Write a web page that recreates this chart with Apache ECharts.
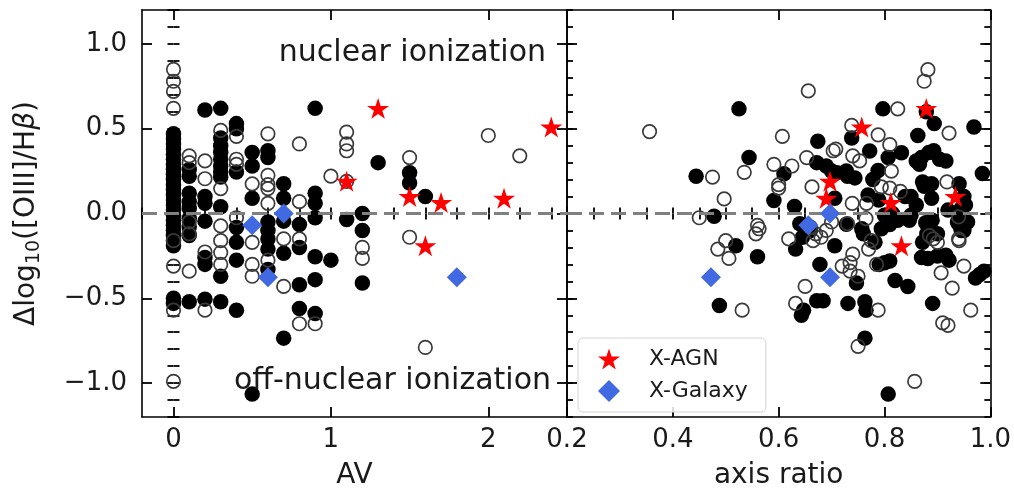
<!DOCTYPE html>
<html><head><meta charset="utf-8">
<script src="https://cdn.jsdelivr.net/npm/echarts@6/dist/echarts.min.js"></script>
<style>html,body{margin:0;padding:0;background:#fff}#c{width:1014px;height:495px}</style>
</head><body><div id="c"></div>
<script>
// ---------- tick labels ----------
const avTicks = [0, 1, 2];
const qTicks = [0.2, 0.4, 0.6, 0.8, 1.0];
const yTicks = [-1.0, -0.5, 0.0, 0.5, 1.0];

// ---------- X-ray sources (same objects in both panels) ----------
const agnDlog = [0.62, 0.51, 0.19, 0.10, 0.09, 0.065, -0.19];
const agnAV   = [1.3, 2.4, 1.1, 1.5, 2.1, 1.7, 1.6];
const agnQ    = [0.879, 0.757, 0.697, 0.934, 0.69, 0.812, 0.832];

const galDlog = [-0.07, 0.0, -0.376, -0.376];
const galAV   = [0.5, 0.7, 0.6, 1.8];
const galQ    = [0.656, 0.697, 0.472, 0.697];

// ---------- left panel: AV vs dlog ----------
const leftFilled = [
[0,0.47],[0,0.44],[0,0.41],[0,0.38],[0,0.35],[0,0.32],[0,0.29],[0,0.26],[0,0.23],[0,0.20],[0,0.17],[0,0.14],[0,0.11],[0,0.08],[0,0.05],[0,0.02],[0,-0.01],[0,-0.04],[0,-0.07],[0,-0.10],[0,-0.13],[0,-0.16],[0,-0.19],[0,-0.50],[0,-0.53],
[0.1,0.26],[0.1,0.22],[0.1,0.12],[0.1,0.07],[0.1,0.03],[0.1,-0.03],[0.1,-0.08],[0.1,-0.13],[0.1,-0.52],
[0.2,0.61],[0.2,0.10],[0.2,0.06],[0.2,-0.045],[0.2,-0.26],[0.2,-0.30],[0.2,-0.505],
[0.3,0.62],[0.3,0.445],[0.3,0.40],[0.3,0.36],[0.3,0.32],[0.3,0.28],[0.3,0.245],[0.3,0.215],[0.3,0.04],[0.3,-0.37],[0.3,-0.52],
[0.4,0.53],[0.4,0.50],[0.4,0.245],[0.4,-0.083],[0.4,-0.17],[0.4,-0.275],[0.4,-0.57],
[0.5,0.36],[0.5,0.28],[0.5,0.09],[0.5,-1.065],
[0.6,0.37],[0.6,0.33],[0.6,-0.05],[0.6,-0.10],[0.6,-0.15],[0.6,-0.21],[0.6,-0.33],
[0.7,0.176],[0.7,0.09],[0.7,-0.045],[0.7,-0.235],[0.7,-0.735],
[0.8,-0.065],[0.8,-0.2],[0.8,-0.42],[0.8,-0.56],
[0.9,0.62],[0.9,0.12],[0.9,0.06],[0.9,-0.025],[0.9,-0.255],[0.9,-0.39],[0.9,-0.59],
[1.0,-0.275],[1.1,-0.035],[1.2,0.0],[1.2,-0.10],[1.2,-0.41],[1.3,0.30],[1.5,0.24],[1.5,0.18],[1.6,0.10]
];
const leftOpen = [
[0,0.85],[0,0.78],[0,0.72],[0,0.62],[0,-0.16],[0,-0.31],[0,-0.57],[0,-0.99],
[0.1,0.34],[0.1,0.30],[0.1,-0.05],[0.1,-0.12],[0.1,-0.34],
[0.2,0.31],[0.2,0.205],[0.2,-0.227],[0.2,-0.57],
[0.3,0.49],[0.3,0.147],[0.3,-0.073],[0.3,-0.16],[0.3,-0.23],[0.3,-0.30],
[0.4,0.455],[0.4,0.32],[0.4,0.29],[0.4,-0.025],
[0.5,0.175],[0.5,-0.17],[0.5,-0.30],[0.5,-0.37],
[0.6,0.47],[0.6,0.225],[0.6,0.17],[0.6,0.147],[0.6,0.06],[0.6,-0.275],
[0.7,-0.15],[0.7,-0.43],
[0.8,0.41],[0.8,0.07],[0.8,-0.15],[0.8,-0.65],
[0.9,-0.65],[1.0,0.22],
[1.1,0.48],[1.1,0.41],[1.1,0.37],[1.1,0.19],
[1.2,-0.2],[1.2,-0.265],[1.5,0.33],[1.5,-0.14],[1.6,-0.79],[2.0,0.46],[2.2,0.34]
];

// ---------- right panel: axis ratio vs dlog ----------
const rightFilled = [
[0.525,0.617],[0.797,0.617],[0.879,0.60],[0.969,0.51],[0.894,0.53],[0.863,0.46],[0.674,0.426],[0.544,0.33],[0.444,0.22],[0.478,-0.016],
[0.61,0.234],[0.591,0.077],[0.63,0.042],[0.672,0.30],[0.69,0.28],[0.71,0.24],[0.728,0.25],[0.744,0.21],[0.738,0.445],[0.772,0.368],
[0.807,0.33],[0.832,0.358],[0.788,0.253],[0.866,0.29],[0.884,0.36],[0.893,0.37],[0.916,0.31],[0.904,0.32],[0.86,0.31],[0.87,0.33],
[0.872,0.186],[0.889,0.175],[0.889,0.09],[0.941,0.176],[0.95,0.10],[0.953,0.05],[0.985,0.236],[0.769,0.109],[0.789,0.08],[0.839,0.10],
[0.85,0.10],[0.778,0.2],[0.706,0.09],[0.70,0.25],[0.73,0.22],[0.875,0.16],[0.86,0.05],[0.92,0.02],[0.945,0.03],[0.815,0.0],
[0.728,-0.064],[0.76,-0.12],[0.782,-0.17],[0.794,-0.09],[0.81,-0.065],[0.825,-0.04],[0.80,-0.01],[0.85,-0.01],[0.847,-0.04],[0.878,-0.054],
[0.872,-0.17],[0.882,-0.265],[0.916,-0.246],[0.922,-0.275],[0.94,-0.06],[0.948,-0.08],[0.945,-0.10],[0.972,-0.38],[0.98,-0.36],[0.988,-0.34],
[0.891,-0.53],[0.807,-1.065],[0.763,-0.735],[0.731,-0.53],[0.763,-0.52],[0.765,-0.57],[0.82,-0.395],[0.844,-0.43],[0.747,-0.41],[0.79,-0.30],
[0.80,-0.29],[0.81,-0.28],[0.706,-0.19],[0.519,-0.19],[0.56,-0.255],[0.488,-0.543],[0.632,-0.21],[0.645,-0.14],[0.678,-0.30],[0.647,-0.57],
[0.643,-0.60],[0.672,-0.515],[0.684,-0.515],[0.88,-0.12],[0.90,-0.12],[0.87,-0.26],[0.90,-0.25],[0.938,-0.05],[0.957,-0.05],[0.66,-0.10],
[0.64,-0.06],[0.757,-0.09],[0.89,-0.04],[0.95,-0.10]
];
const rightOpen = [
[0.356,0.483],[0.656,0.723],[0.882,0.848],[0.875,0.78],[0.825,0.617],[0.922,0.474],[0.607,0.455],[0.475,0.215],[0.535,0.243],[0.497,0.086],
[0.45,-0.025],[0.591,0.29],[0.625,0.28],[0.653,0.33],[0.60,0.17],[0.60,0.15],[0.663,0.157],[0.703,0.37],[0.708,0.38],[0.738,0.52],
[0.788,0.464],[0.81,0.406],[0.74,0.34],[0.753,0.31],[0.813,0.25],[0.918,0.186],[0.766,0.06],[0.794,0.157],[0.81,0.15],[0.83,0.13],
[0.739,0.06],[0.56,-0.07],[0.563,-0.09],[0.557,-0.12],[0.50,-0.16],[0.485,-0.21],[0.506,-0.265],[0.531,-0.57],[0.619,-0.15],[0.66,-0.08],
[0.67,-0.12],[0.665,-0.16],[0.65,-0.43],[0.632,-0.53],[0.73,-0.06],[0.765,-0.03],[0.77,-0.21],[0.775,-0.16],[0.885,-0.13],[0.892,-0.15],
[0.90,-0.17],[0.907,-0.35],[0.928,-0.44],[0.941,-0.16],[0.95,-0.31],[0.963,-0.57],[0.91,-0.645],[0.92,-0.66],[0.857,-0.99],[0.75,-0.783],
[0.788,-0.57],[0.72,-0.31],[0.735,-0.34],[0.75,-0.37],[0.785,-0.30],[0.74,-0.24],[0.735,-0.29],[0.94,-0.02],[0.70,-0.05],[0.69,-0.10],
[0.68,-0.14],[0.94,-0.15]
];

// ---------- chart ----------
const FONT = '"DejaVu Sans", sans-serif';
const TXT = '#1a1a1a';
const AX = {color: '#000', width: 1.6};
const TK = {color: '#000', width: 1.8};
const STAR = 'path://M50 0 L61.23 34.55 L97.55 34.55 L68.17 55.9 L79.39 90.45 L50 69.1 L20.61 90.45 L31.83 55.9 L2.45 34.55 L38.77 34.55 Z';

function fmtY(v){ return (v < 0 ? '\u2212' : '') + Math.abs(v).toFixed(1); }

function xAxesFor(g, min, max, majors, minorInt, name, fmt){
  const base = {gridIndex: g, type: 'value', min: min, max: max, splitLine: {show: false}};
  return [
    Object.assign({}, base, {position: 'bottom', name: name, nameLocation: 'middle', nameGap: 45,
      nameTextStyle: {fontSize: 28, color: TXT, fontFamily: FONT},
      axisLine: {show: true, onZero: false, lineStyle: AX},
      axisTick: {show: true, inside: true, length: 10, customValues: majors, lineStyle: TK},
      axisLabel: {show: true, customValues: majors, fontSize: 26, margin: 10, color: TXT, fontFamily: FONT, formatter: fmt}}),
    Object.assign({}, base, {position: 'bottom', interval: minorInt,
      axisLine: {show: false}, axisTick: {show: true, inside: true, length: 6, lineStyle: TK}, axisLabel: {show: false}}),
    Object.assign({}, base, {position: 'top',
      axisLine: {show: true, onZero: false, lineStyle: AX},
      axisTick: {show: true, inside: true, length: 10, customValues: majors, lineStyle: TK}, axisLabel: {show: false}}),
    Object.assign({}, base, {position: 'top', interval: minorInt,
      axisLine: {show: false}, axisTick: {show: true, inside: true, length: 6, lineStyle: TK}, axisLabel: {show: false}})
  ];
}
function yAxesFor(g, withLabels){
  const base = {gridIndex: g, type: 'value', min: -1.2, max: 1.2, splitLine: {show: false}};
  const main = Object.assign({}, base, {position: 'left',
      axisLine: {show: true, onZero: false, lineStyle: AX},
      axisTick: {show: true, inside: true, length: 10, customValues: yTicks, lineStyle: TK},
      axisLabel: {show: withLabels, customValues: yTicks, fontSize: 26, margin: 15, color: TXT, fontFamily: FONT, formatter: fmtY}});
  if (withLabels) {
    main.name = '{t|\u0394log}{s|10}{t|([OIII]/H}{g|\u03b2}{t|)}';
    main.nameLocation = 'middle';
    main.nameRotate = 90;
    main.nameGap = 98;
    main.nameTextStyle = {color: TXT, fontFamily: FONT, rich: {
      t: {fontSize: 28, fontFamily: FONT, color: TXT, lineHeight: 34},
      s: {fontSize: 19, fontFamily: FONT, color: TXT, lineHeight: 19, verticalAlign: 'bottom'},
      g: {fontSize: 28, fontFamily: FONT, color: TXT, fontStyle: 'italic', lineHeight: 34}
    }};
  }
  return [
    main,
    Object.assign({}, base, {position: 'left', interval: 0.1,
      axisLine: {show: false}, axisTick: {show: true, inside: true, length: 6, lineStyle: TK}, axisLabel: {show: false}}),
    Object.assign({}, base, {position: 'right',
      axisLine: {show: true, onZero: false, lineStyle: AX},
      axisTick: {show: true, inside: true, length: 10, customValues: yTicks, lineStyle: TK}, axisLabel: {show: false}}),
    Object.assign({}, base, {position: 'right', interval: 0.1,
      axisLine: {show: false}, axisTick: {show: true, inside: true, length: 6, lineStyle: TK}, axisLabel: {show: false}})
  ];
}

function zip(xs, ys){ return xs.map((x, i) => [x, ys[i]]); }

function panelSeries(xi, filled, open, agnX, galX){
  return [
    {type: 'scatter', xAxisIndex: xi, yAxisIndex: xi, data: filled, symbol: 'circle', symbolSize: 15.5,
     itemStyle: {color: '#000', opacity: 1}, z: 2, silent: true},
    {type: 'scatter', xAxisIndex: xi, yAxisIndex: xi, data: open, symbol: 'circle', symbolSize: 13.5,
     itemStyle: {color: 'rgba(0,0,0,0)', borderColor: '#3a3a3a', borderWidth: 1.7, opacity: 1}, z: 3, silent: true,
     markLine: {silent: true, symbol: 'none', z: 4, animation: false, label: {show: false},
       lineStyle: {type: [15, 7], color: '#808080', width: 3.2}, data: [{yAxis: 0}]}},
    {type: 'scatter', name: 'X-AGN', xAxisIndex: xi, yAxisIndex: xi, data: zip(agnX, agnDlog), symbol: STAR, symbolSize: 22,
     symbolKeepAspect: true, itemStyle: {color: '#ff0000', opacity: 1}, z: 6, silent: true},
    {type: 'scatter', name: 'X-Galaxy', xAxisIndex: xi, yAxisIndex: xi, data: zip(galX, galDlog), symbol: 'diamond', symbolSize: 20,
     itemStyle: {color: '#4169e1', opacity: 1}, z: 6, silent: true}
  ];
}

const chart = echarts.init(document.getElementById('c'), null, {renderer: 'canvas'});
chart.setOption({
  animation: false,
  backgroundColor: '#fff',
  textStyle: {fontFamily: FONT},
  grid: [
    {left: 142, top: 10, width: 425, height: 413},
    {left: 567, top: 10, width: 425, height: 413}
  ],
  xAxis: [].concat(
    xAxesFor(0, -0.2, 2.5, avTicks, 0.2, 'AV', v => String(v)),
    xAxesFor(1, 0.2, 1.0, qTicks, 0.05, 'axis ratio', v => v.toFixed(1))
  ),
  yAxis: [].concat(yAxesFor(0, true), yAxesFor(1, false)),
  legend: {
    data: ['X-AGN', 'X-Galaxy'], orient: 'vertical', left: 578, top: 338,
    itemWidth: 22, itemHeight: 22, itemGap: 10, padding: [10, 18, 10, 20],
    backgroundColor: 'rgba(255,255,255,0.85)', borderColor: '#d4d4d4', borderWidth: 1, borderRadius: 5,
    selectedMode: false, z: 10,
    textStyle: {fontSize: 22, color: TXT, fontFamily: FONT, padding: [0, 0, 0, 24]}
  },
  graphic: [
    {type: 'text', x: 546, y: 53, z: 20, style: {text: 'nuclear ionization', font: '30px "DejaVu Sans"', fill: TXT, align: 'right', verticalAlign: 'middle'}},
    {type: 'text', x: 551, y: 381, z: 20, style: {text: 'off-nuclear ionization', font: '30px "DejaVu Sans"', fill: TXT, align: 'right', verticalAlign: 'middle'}}
  ],
  series: [].concat(
    panelSeries(0, leftFilled, leftOpen, agnAV, galAV),
    panelSeries(4, rightFilled, rightOpen, agnQ, galQ)
  )
});
</script></body></html>
